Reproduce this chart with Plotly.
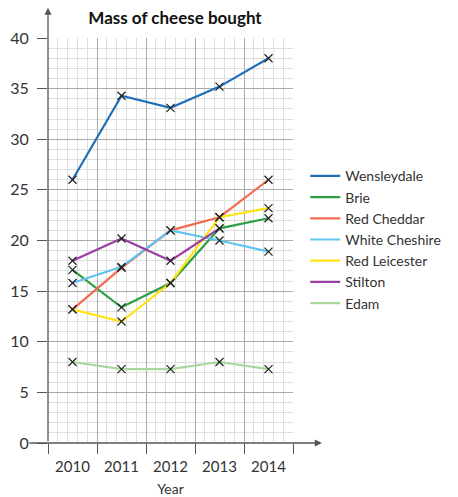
import plotly.graph_objects as go

years = ["2010", "2011", "2012", "2013", "2014"]
xpos = [0, 1, 2, 3, 4]
boundaries = [-0.5, 0.5, 1.5, 2.5, 3.5, 4.5]

series_names = ["Wensleydale", "Brie", "Red Cheddar", "White Cheshire",
                "Red Leicester", "Stilton", "Edam"]
wensleydale = [26, 34.3, 33.1, 35.2, 38]
brie = [17.1, 13.4, 15.8, 21.2, 22.2]
red_cheddar = [13.2, 17.3, 21, 22.3, 26]
white_cheshire = [15.8, 17.4, 21, 20, 18.9]
red_leicester = [13.2, 12, 15.8, 22.3, 23.2]
stilton = [18, 20.2, 18, 21.2, None]
edam = [8, 7.3, 7.3, 8, 7.3]

series_values = [wensleydale, brie, red_cheddar, white_cheshire,
                 red_leicester, stilton, edam]
colors = ["#1f6fb8", "#2ea043", "#f36b4f", "#5ec5ef", "#ffe314", "#9a3fa3", "#a8d89c"]

FONT = "Lato"
TXT = "#333333"

fig = go.Figure()
for name, vals, col in zip(series_names, series_values, colors):
    fig.add_trace(go.Scatter(
        x=xpos, y=vals, name=name, mode="lines",
        line=dict(color=col, width=2.2),
        connectgaps=False,
    ))
for name, vals, col in zip(series_names, series_values, colors):
    fig.add_trace(go.Scatter(
        x=xpos, y=vals, mode="markers", showlegend=False, hoverinfo="skip",
        marker=dict(symbol="x-thin", size=8, line=dict(color="#222222", width=1.2)),
    ))

fig.update_layout(
    width=458, height=497,
    margin=dict(l=48, r=156, t=38, b=54),
    paper_bgcolor="white", plot_bgcolor="white",
    font=dict(family=FONT, color=TXT, size=15),
    title=dict(text="<b>Mass of cheese bought</b>", x=175 / 458, xanchor="center",
               y=1 - 18 / 497, yanchor="middle",
               font=dict(size=17, color="#111111", weight=900)),
    legend=dict(x=1.05, y=0.698, xanchor="left", yanchor="top",
                font=dict(size=14, color=TXT), tracegroupgap=0,
                itemwidth=30, bgcolor="rgba(0,0,0,0)"),
    xaxis=dict(
        range=[-0.5, 4.5], tickmode="array", tickvals=xpos, ticktext=years,
        ticks="", showgrid=False, zeroline=False, showline=False,
        tickfont=dict(size=15, color=TXT), ticklabelstandoff=13,
        minor=dict(tick0=-0.5, dtick=0.2, showgrid=True, gridcolor="#dedede",
                   gridwidth=1, ticks=""),
        title=dict(text="Year", font=dict(size=14, color=TXT), standoff=12),
        fixedrange=True, automargin=False,
    ),
    xaxis2=dict(
        overlaying="x", side="bottom", range=[-0.5, 4.5], tickmode="array",
        tickvals=boundaries, showticklabels=False, ticks="outside", ticklen=10,
        tickcolor="#555555", tickwidth=1.2, showgrid=True, gridcolor="#ababab",
        gridwidth=1, zeroline=False, showline=False, automargin=False,
    ),
    yaxis=dict(
        range=[0, 40], tickmode="linear", tick0=0, dtick=5,
        ticks="outside", ticklen=10, tickcolor="#555555", tickwidth=1.2,
        showgrid=True, gridcolor="#ababab", gridwidth=1,
        zeroline=False, showline=False, ticklabelstandoff=5,
        tickfont=dict(size=16, color=TXT), automargin=False,
        minor=dict(dtick=1, showgrid=True, gridcolor="#dedede", gridwidth=1, ticks=""),
    ),
)

# dummy trace to activate xaxis2
fig.add_trace(go.Scatter(x=[None], y=[None], xaxis="x2", showlegend=False, hoverinfo="skip"))

# axis lines with arrowheads
fig.add_annotation(x=1.118, y=0, xref="paper", yref="y", ax=-294, ay=0,
                   axref="pixel", ayref="pixel", text="", showarrow=True,
                   arrowhead=2, arrowsize=1.1, arrowwidth=1.3, arrowcolor="#555555",
                   standoff=0, startstandoff=0)
fig.add_annotation(x=0, y=1.075, xref="paper", yref="paper", ax=0, ay=435,
                   axref="pixel", ayref="pixel", text="", showarrow=True,
                   arrowhead=2, arrowsize=1.1, arrowwidth=1.3, arrowcolor="#555555",
                   standoff=0, startstandoff=0)

fig.write_html("out.html")
